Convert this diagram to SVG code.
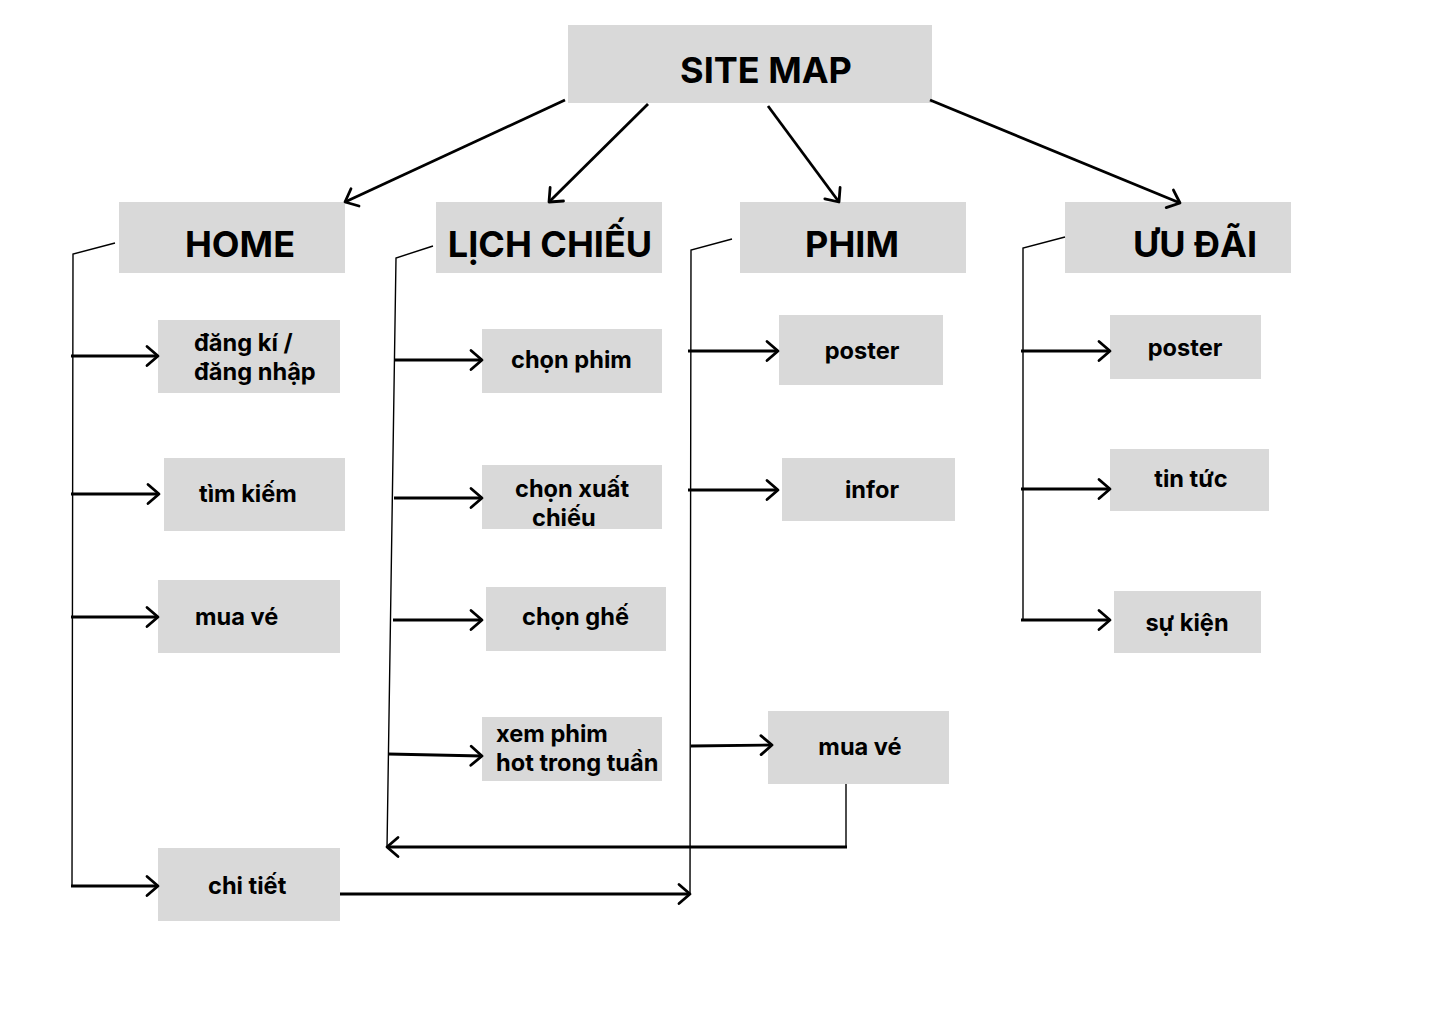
<svg xmlns="http://www.w3.org/2000/svg" width="1456" height="1024" viewBox="0 0 1456 1024">
<style>
.box{fill:#d9d9d9}
.h{font-family:Inter,"Liberation Sans",sans-serif;font-weight:700;font-size:36px;fill:#000}
.t{font-family:Inter,"Liberation Sans",sans-serif;font-weight:700;font-size:23.6px;fill:#000}
.ar{stroke:#000;stroke-width:2.8;fill:none;marker-end:url(#a)}
.ln{stroke:#000;stroke-width:1.4;fill:none}
</style>
<defs>
<marker id="a" markerUnits="userSpaceOnUse" markerWidth="18" markerHeight="24" viewBox="0 0 18 24" refX="14" refY="12" orient="auto">
<path d="M3,2.5 L14,12 L3,21.5" stroke="#000" stroke-width="2.8" fill="none" stroke-linecap="round" stroke-linejoin="round"/>
</marker>
</defs>
<rect width="1456" height="1024" fill="#fff"/>

<g id="sitemap"><rect class="box" x="568" y="25" width="364" height="78"/><text class="h" x="766" y="83" text-anchor="middle">SITE MAP</text></g>

<g id="home"><rect class="box" x="119" y="202" width="226" height="71"/><text class="h" x="240" y="257" text-anchor="middle">HOME</text></g>
<g id="lichchieu"><rect class="box" x="436" y="202" width="226" height="71"/><text class="h" x="550" y="257" text-anchor="middle">LỊCH CHIẾU</text></g>
<g id="phim"><rect class="box" x="740" y="202" width="226" height="71"/><text class="h" x="852" y="257" text-anchor="middle">PHIM</text></g>
<g id="uudai"><rect class="box" x="1065" y="202" width="226" height="71"/><text class="h" x="1195" y="257" text-anchor="middle">ƯU ĐÃI</text></g>

<g id="dangki"><rect class="box" x="158" y="320" width="182" height="73"/><text class="t" x="194" y="351">đăng kí /</text><text class="t" x="194" y="380">đăng nhập</text></g>
<g id="timkiem"><rect class="box" x="164" y="458" width="181" height="73"/><text class="t" x="199" y="502">tìm kiếm</text></g>
<g id="muave1"><rect class="box" x="158" y="580" width="182" height="73"/><text class="t" x="195" y="625">mua vé</text></g>
<g id="chitiet"><rect class="box" x="158" y="848" width="182" height="73"/><text class="t" x="208" y="894">chi tiết</text></g>

<g id="chonphim"><rect class="box" x="482" y="329" width="180" height="64"/><text class="t" x="511" y="368">chọn phim</text></g>
<g id="chonxuat"><rect class="box" x="482" y="465" width="180" height="64"/><text class="t" x="515" y="497">chọn xuất</text><text class="t" x="532" y="526">chiếu</text></g>
<g id="chonghe"><rect class="box" x="486" y="587" width="180" height="64"/><text class="t" x="522" y="625">chọn ghế</text></g>
<g id="xemphim"><rect class="box" x="482" y="717" width="180" height="64"/><text class="t" x="496" y="742">xem phim</text><text class="t" x="496" y="771">hot trong tuần</text></g>

<g id="poster1"><rect class="box" x="779" y="315" width="164" height="70"/><text class="t" x="862" y="359" text-anchor="middle">poster</text></g>
<g id="infor"><rect class="box" x="782" y="458" width="173" height="63"/><text class="t" x="872" y="498" text-anchor="middle">infor</text></g>
<g id="muave2"><rect class="box" x="768" y="711" width="181" height="73"/><text class="t" x="860" y="755" text-anchor="middle">mua vé</text></g>

<g id="poster2"><rect class="box" x="1110" y="315" width="151" height="64"/><text class="t" x="1185" y="356" text-anchor="middle">poster</text></g>
<g id="tintuc"><rect class="box" x="1110" y="449" width="159" height="62"/><text class="t" x="1191" y="487" text-anchor="middle">tin tức</text></g>
<g id="sukien"><rect class="box" x="1114" y="591" width="147" height="62"/><text class="t" x="1187" y="631" text-anchor="middle">sự kiện</text></g>

<g id="connectors">
<line class="ar" x1="565" y1="100" x2="345" y2="202"/>
<line class="ar" x1="648" y1="104" x2="549" y2="202"/>
<line class="ar" x1="768" y1="106" x2="839" y2="202"/>
<line class="ar" x1="930" y1="100" x2="1180" y2="203"/>

<polyline class="ln" points="115,243 73,254 72,886"/>
<line class="ar" x1="71" y1="356" x2="158" y2="356"/>
<line class="ar" x1="71" y1="494" x2="159" y2="494"/>
<line class="ar" x1="71" y1="617" x2="158" y2="617"/>
<line class="ar" x1="71" y1="886" x2="158" y2="886"/>
<line class="ar" x1="340" y1="894" x2="690" y2="894"/>

<polyline class="ln" points="433,246 396,258 387,848"/>
<line class="ar" x1="395" y1="360" x2="482" y2="360"/>
<line class="ar" x1="394" y1="498" x2="482" y2="498"/>
<line class="ar" x1="393" y1="620" x2="482" y2="620"/>
<line class="ar" x1="388" y1="754" x2="482" y2="756"/>

<polyline class="ln" points="732,239 691,250 690,894"/>
<line class="ar" x1="688" y1="351" x2="778" y2="351"/>
<line class="ar" x1="688" y1="490" x2="778" y2="490"/>
<line class="ar" x1="691" y1="746" x2="772" y2="745"/>
<polyline class="ln" points="846,784 846,847"/>
<line class="ar" x1="847" y1="847" x2="387" y2="847"/>

<polyline class="ln" points="1065,237 1023,248 1023,620"/>
<line class="ar" x1="1021" y1="351" x2="1110" y2="351"/>
<line class="ar" x1="1021" y1="489" x2="1110" y2="489"/>
<line class="ar" x1="1021" y1="620" x2="1110" y2="620"/>
</g>
</svg>
